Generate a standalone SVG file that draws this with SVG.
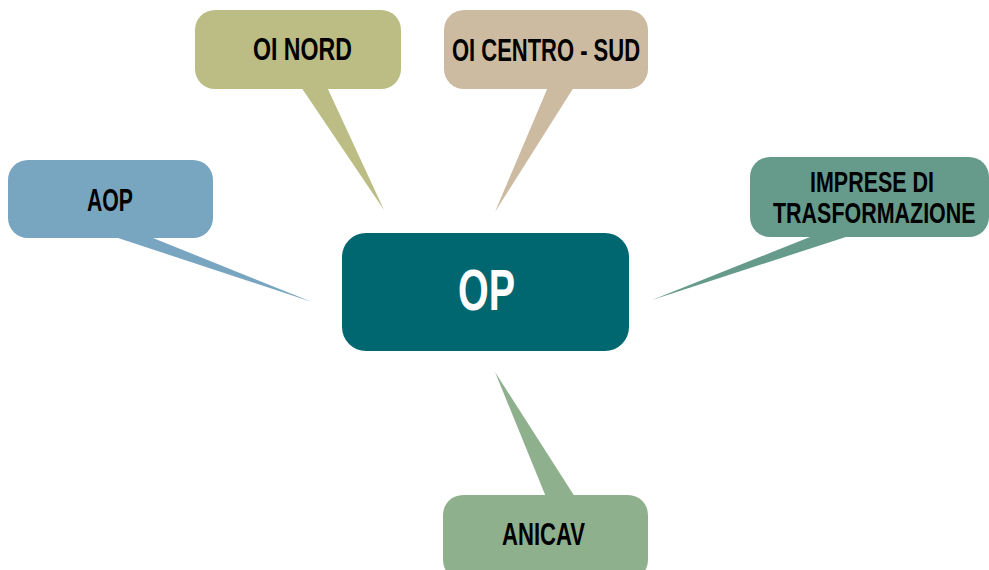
<svg xmlns="http://www.w3.org/2000/svg" width="989" height="570" viewBox="0 0 989 570">
<style>
  text { font-family: "Liberation Sans", Arial, sans-serif; font-weight: bold; text-anchor: start; fill: #000; }
  .lbl { font-size: 31px; }
  .op { font-size: 57px; fill: #ffffff; }
  .aop { fill: #78A5C0; }
  .nord { fill: #BBBD85; }
  .centro { fill: #CCBBA1; }
  .imp { fill: #669B8C; }
  .opc { fill: #006770; }
  .ani { fill: #8FB08C; }
</style>
<rect width="989" height="570" fill="#ffffff"/>
<g id="connectors">
  <polygon class="aop" points="112,236 148,236 312,302"/>
  <polygon class="nord" points="301,87 327,87 384,210"/>
  <polygon class="centro" points="548,87 574,87 495,212"/>
  <polygon class="imp" points="815,235 852,235 652,300"/>
  <polygon class="ani" points="546,497 575,497 495,372"/>
</g>
<g id="node-aop">
  <rect class="aop" x="8" y="160" width="205" height="78" rx="20"/>
  <text class="lbl" x="87" y="211" textLength="46" lengthAdjust="spacingAndGlyphs">AOP</text>
</g>
<g id="node-oi-nord">
  <rect class="nord" x="195" y="10" width="206" height="79" rx="20"/>
  <text class="lbl" x="253" y="60" textLength="99" lengthAdjust="spacingAndGlyphs">OI NORD</text>
</g>
<g id="node-oi-centro-sud">
  <rect class="centro" x="444" y="10" width="204" height="79" rx="20"/>
  <text class="lbl" x="452" y="61" textLength="188" lengthAdjust="spacingAndGlyphs">OI CENTRO - SUD</text>
</g>
<g id="node-imprese">
  <rect class="imp" x="750" y="157" width="239" height="80" rx="20"/>
  <text class="lbl" transform="translate(810,192) scale(0.74,1)" x="0" y="0" style="font-size:29px">IMPRESE DI</text>
  <text class="lbl" transform="translate(773,223) scale(0.74,1)" x="0" y="0" style="font-size:29px">TRASFORMAZIONE</text>
</g>
<g id="node-op">
  <rect class="opc" x="342" y="233" width="287" height="118" rx="24"/>
  <text class="op" x="458" y="310" textLength="57" lengthAdjust="spacingAndGlyphs">OP</text>
</g>
<g id="node-anicav">
  <rect class="ani" x="443" y="495" width="205" height="85" rx="20"/>
  <text class="lbl" x="502" y="545" textLength="83" lengthAdjust="spacingAndGlyphs">ANICAV</text>
</g>
</svg>
